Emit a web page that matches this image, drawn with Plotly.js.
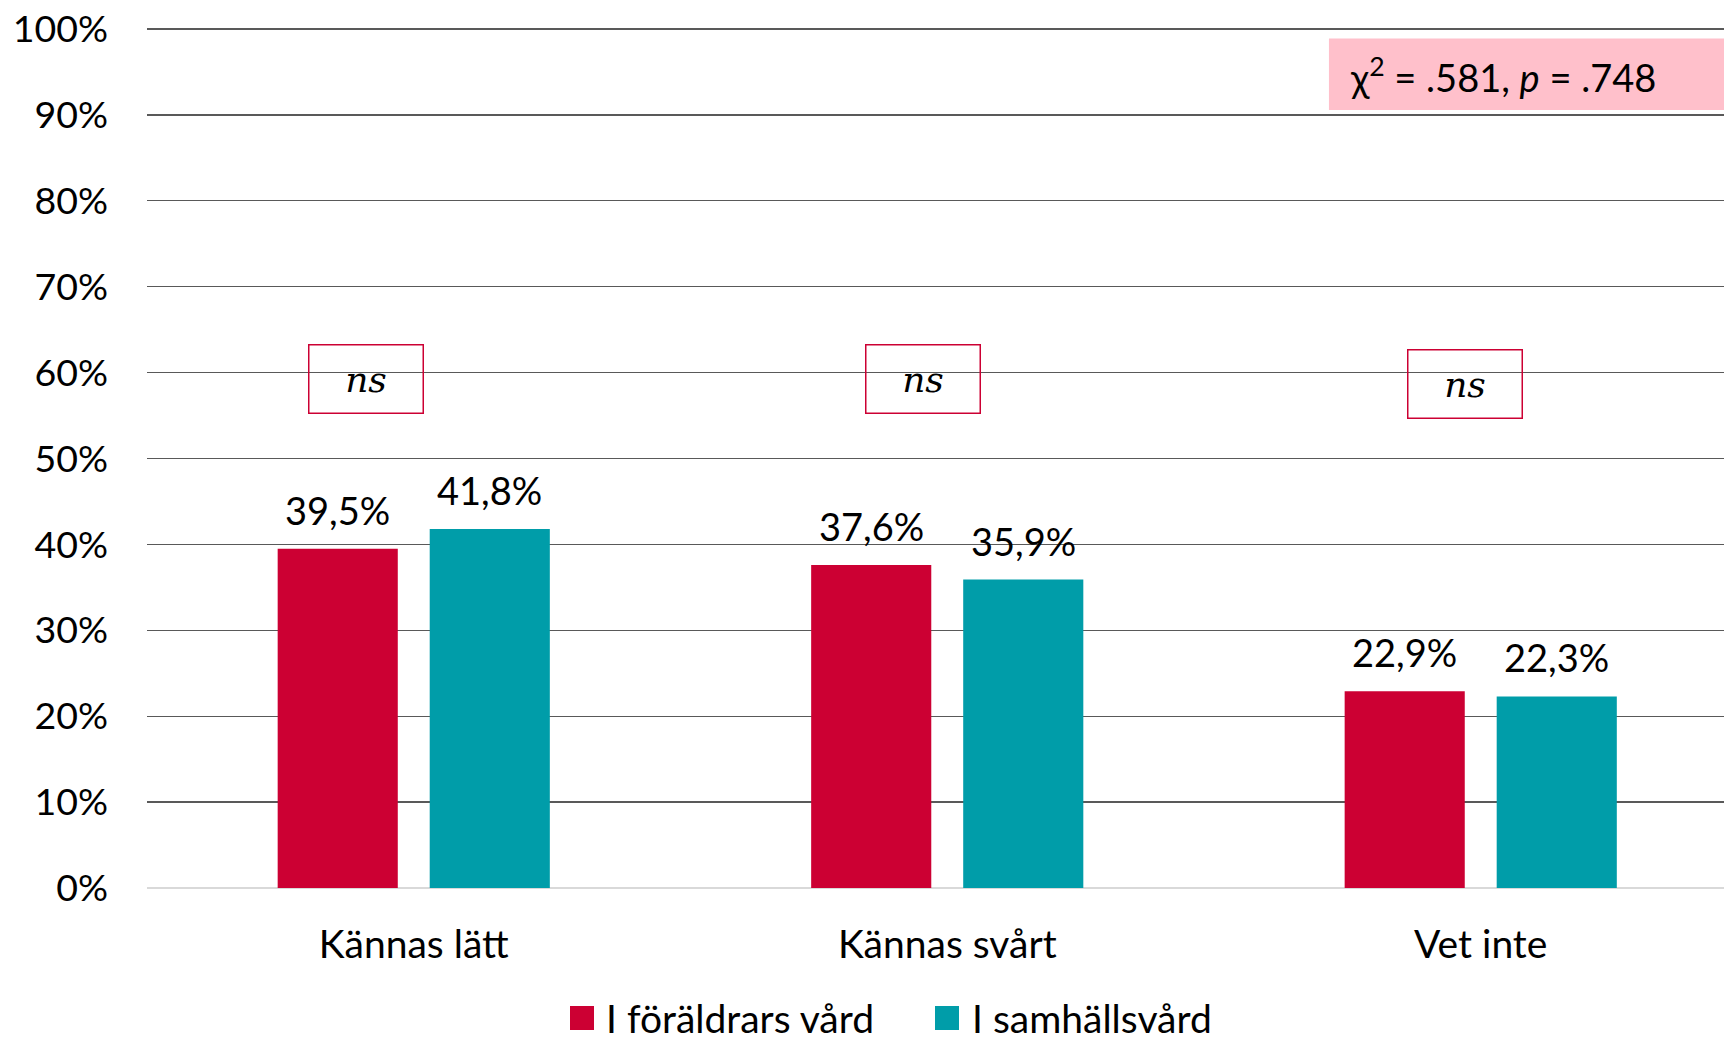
<!DOCTYPE html>
<html>
<head>
<meta charset="utf-8">
<script src="https://cdn.plot.ly/plotly-3.0.1.min.js"></script>
<style>html,body{margin:0;padding:0;background:#fff;}#chart{width:1724px;height:1040px;}</style>
</head>
<body>
<div id="chart"></div>
<script>
const categories = ["Kännas lätt", "Kännas svårt", "Vet inte"];
const seriesNames = ["I föräldrars vård", "I samhällsvård"];
const foraldrar = [39.5, 37.6, 22.9];
const samhall = [41.8, 35.9, 22.3];
const sigLabels = ["ns", "ns", "ns"];
const statText = "χ<sup>2</sup> = .581, <i>p</i> = .748";
const yTicks = [0, 10, 20, 30, 40, 50, 60, 70, 80, 90, 100];

const fmt = v => v.toFixed(1).replace('.', ',') + '%';
const FONT = 'Lato, "Open Sans", sans-serif';
const COLORS = ['#CC0033', '#009DA9'];

const W = 1724, H = 1040, ML = 147, MR = 0, MT = 26, MB = 152;
const XRANGE = [-0.5, 2.456];
const BARGAP = 0.43, GROUPGAP = 0.21;
const plotW = W - ML - MR, plotH = H - MT - MB;
const catPx = plotW / (XRANGE[1] - XRANGE[0]);
const slotPx = catPx * (1 - BARGAP) / 2;
const px2paperX = p => (p - ML) / plotW;
const px2paperY = p => (H - MB - p) / plotH;

const series = [foraldrar, samhall];
const traces = series.map((vals, s) => ({
  type: 'bar', name: seriesNames[s], x: categories, y: vals,
  marker: {color: COLORS[s]}, hoverinfo: 'none', showlegend: false
}));

const annotations = [];
series.forEach((vals, s) => {
  vals.forEach((v, i) => {
    annotations.push({
      x: categories[i], y: v, xref: 'x', yref: 'y', text: fmt(v), showarrow: false,
      xanchor: 'center', yanchor: 'bottom', xshift: (s - 0.5) * slotPx, yshift: 14,
      font: {family: FONT, size: 38, color: '#000'}
    });
  });
});

const nsPos = [[-0.09, 59.3], [0.955, 59.3], [1.97, 58.7]];
sigLabels.forEach((s, i) => annotations.push({
  x: nsPos[i][0], y: nsPos[i][1], xref: 'x', yref: 'y',
  text: '<i>' + s + '</i>', showarrow: false,
  font: {family: '"DejaVu Serif", "Liberation Serif", serif', size: 36, color: '#000'},
  bordercolor: '#CC0033', borderwidth: 1.5, borderpad: 0, width: 113, height: 67,
  xanchor: 'center', yanchor: 'middle'
}));
annotations.push({
  x: 1.751, y: 94.7, xref: 'x', yref: 'y', text: statText, showarrow: false,
  xanchor: 'left', yanchor: 'middle', align: 'left',
  font: {family: FONT, size: 38, color: '#000'}
});

// Legend (drawn manually so the colour keys match the reference size)
const legendItems = [{sq: 570, txt: 604}, {sq: 935, txt: 970}];
const LEG_CY = 1018, LEG_SQ = 24;
const shapes = [{type: 'rect', xref: 'x', yref: 'y', x0: 1.7155, x1: 2.6, y0: 90.57, y1: 98.9,
                 fillcolor: '#FFC0CB', line: {width: 0}, layer: 'below'}];
legendItems.forEach((it, s) => {
  shapes.push({type: 'rect', xref: 'paper', yref: 'paper',
    x0: px2paperX(it.sq), x1: px2paperX(it.sq + LEG_SQ),
    y0: px2paperY(LEG_CY + LEG_SQ / 2), y1: px2paperY(LEG_CY - LEG_SQ / 2),
    fillcolor: COLORS[s], line: {width: 0}});
  annotations.push({x: px2paperX(it.txt), y: px2paperY(LEG_CY), xref: 'paper', yref: 'paper',
    text: seriesNames[s], showarrow: false, xanchor: 'left', yanchor: 'middle',
    font: {family: FONT, size: 39, color: '#000'}});
});

const layout = {
  width: W, height: H,
  margin: {l: ML, r: MR, t: MT, b: MB},
  paper_bgcolor: '#fff', plot_bgcolor: '#fff',
  font: {family: FONT, size: 38, color: '#000'},
  barmode: 'group', bargap: BARGAP, bargroupgap: GROUPGAP,
  showlegend: false,
  xaxis: {type: 'category', range: XRANGE, showgrid: false, showline: false, automargin: false,
          zeroline: false, ticks: '', ticklabelstandoff: 30, fixedrange: true,
          tickfont: {family: FONT, size: 39, color: '#000'}},
  yaxis: {range: [0, 100.35], tickvals: yTicks, ticktext: yTicks.map(v => v + '%'), automargin: false,
          showgrid: true, gridcolor: '#595959', gridwidth: 1.3,
          zeroline: true, zerolinecolor: '#D9D9D9', zerolinewidth: 1.5,
          showline: false, ticks: '', ticklabelstandoff: 38,
          tickfont: {family: FONT, size: 37.5, color: '#000'}, fixedrange: true},
  shapes: shapes,
  annotations: annotations
};

Plotly.newPlot('chart', traces, layout, {displayModeBar: false, staticPlot: true});
</script>
</body>
</html>
